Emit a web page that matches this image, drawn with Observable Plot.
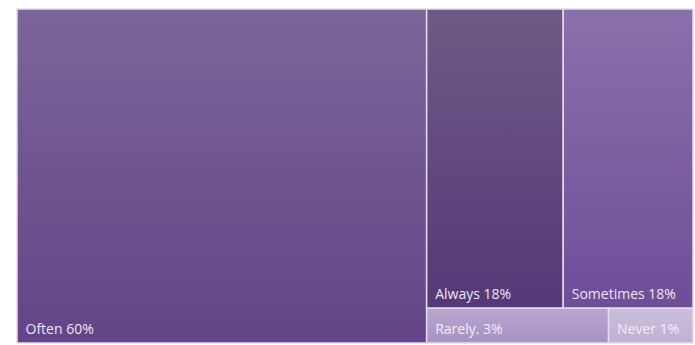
<!DOCTYPE html>
<html>
<head>
<meta charset="utf-8">
<script src="https://cdn.jsdelivr.net/npm/d3@7"></script>
<script src="https://cdn.jsdelivr.net/npm/@observablehq/plot@0.6"></script>
<style>
  html, body { margin: 0; padding: 0; background: #ffffff; }
  #chart { width: 695px; height: 345px; }
</style>
</head>
<body>
<div id="chart"></div>
<script>
// ---- data ----
const categories = ["Often", "Always", "Sometimes", "Rarely", "Never"];
const percentLabels = ["Often 60%", "Always 18%", "Sometimes 18%", "Rarely. 3%", "Never 1%"];
// tile areas (share of total)
const areaShares = [60.6, 18.1, 17.2, 2.8, 1.3];
// nesting of tiles: main | (upper row / lower row)
const groups = ["main", "upper", "upper", "lower", "lower"];

// ---- styles ----
const gradTop = ["#7b6699", "#6e5a86", "#8a70ab", "#b8a6d0", "#cbbedb"];
const gradBottom = ["#634487", "#553877", "#6f4d98", "#a791c4", "#bfb0d4"];
const labelColor = ["#ece5f4", "#ece5f4", "#ece5f4", "#f2edf8", "#f2edf8"];

// ---- layout through d3.hierarchy/treemap ----
const rootData = {name: "root", children: [
  {name: "main", children: []},
  {name: "rest", children: [
    {name: "upper", children: []},
    {name: "lower", children: []}
  ]}
]};
const groupNode = {
  main: rootData.children[0],
  upper: rootData.children[1].children[0],
  lower: rootData.children[1].children[1]
};
categories.forEach((c, i) => groupNode[groups[i]].children.push({name: c, value: areaShares[i], i}));
// "main" contains a single leaf: collapse it
rootData.children[0] = rootData.children[0].children[0];

const root = d3.hierarchy(rootData).sum(d => d.value || 0);
d3.treemap().tile(d3.treemapSliceDice).size([1, 1])(root);
const tiles = root.leaves().map(l => ({
  name: l.data.name, i: l.data.i, label: percentLabels[l.data.i],
  x0: l.x0, x1: l.x1, y0: l.y0, y1: l.y1
}));

const plot = Plot.plot({
  width: 695,
  height: 345,
  marginLeft: 17,
  marginTop: 9,
  marginRight: 2,
  marginBottom: 2,
  x: {domain: [0, 1], axis: null},
  y: {domain: [0, 1], reverse: true, axis: null},
  color: {type: "identity"},
  style: {fontFamily: "'Open Sans', sans-serif", background: "#ffffff"},
  marks: [
    Plot.rect(tiles, {
      x1: "x0", x2: "x1", y1: "y0", y2: "y1",
      fill: d => `url(#tile-grad-${d.i})`,
      stroke: "#e4dcee",
      strokeWidth: 1.5
    }),
    Plot.text(tiles, {
      x: "x0", y: "y1",
      text: "label",
      textAnchor: "start",
      lineAnchor: "bottom",
      dx: 8, dy: -10,
      fontSize: 14,
      fill: d => labelColor[d.i]
    })
  ]
});

// gradient definitions
const defs = d3.select(plot).insert("defs", ":first-child");
categories.forEach((c, i) => {
  const g = defs.append("linearGradient")
    .attr("id", `tile-grad-${i}`)
    .attr("x1", 0).attr("y1", 0).attr("x2", 0).attr("y2", 1);
  g.append("stop").attr("offset", "0%").attr("stop-color", gradTop[i]);
  g.append("stop").attr("offset", "100%").attr("stop-color", gradBottom[i]);
});

document.getElementById("chart").appendChild(plot);
</script>
</body>
</html>
